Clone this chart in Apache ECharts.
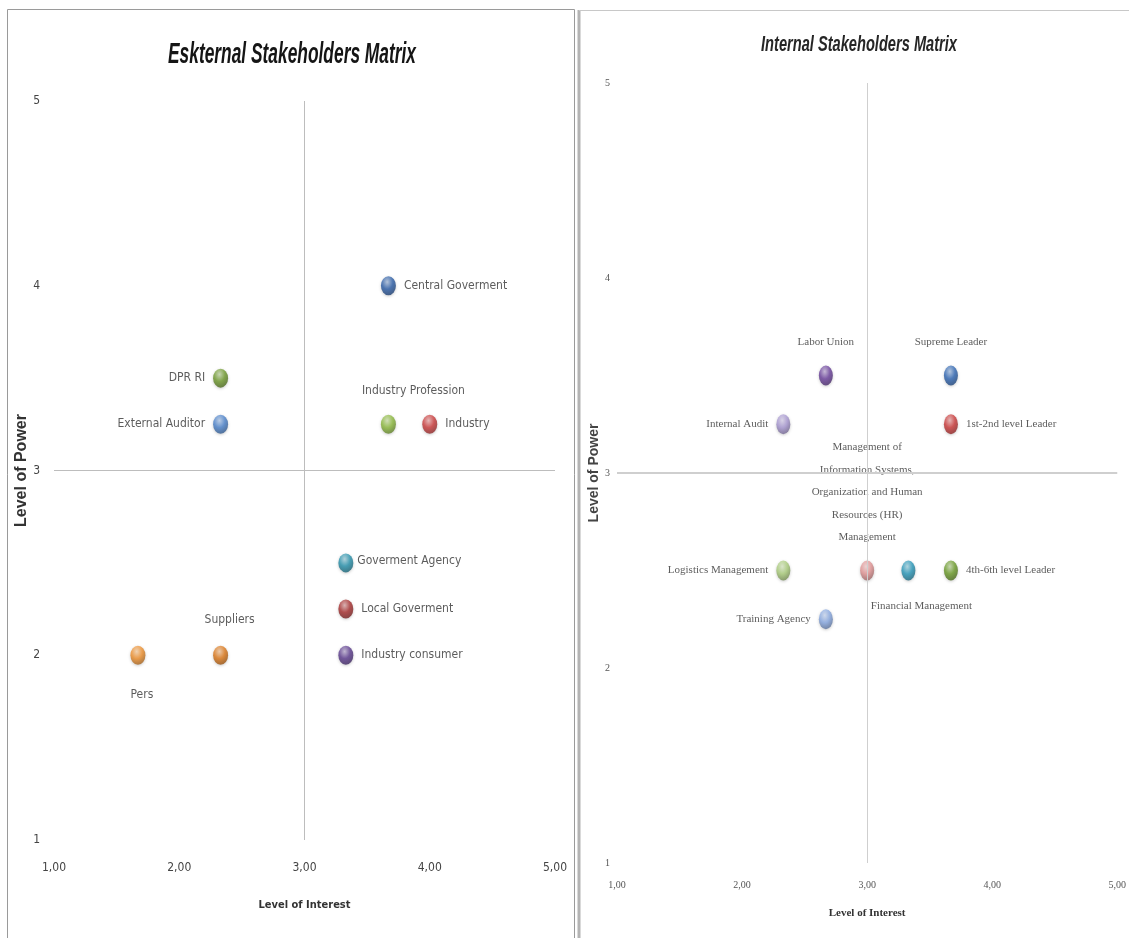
<!DOCTYPE html>
<html>
<head>
<meta charset="utf-8">
<script src="https://cdn.jsdelivr.net/npm/echarts@6/dist/echarts.min.js"></script>
<style>
  html, body { margin: 0; padding: 0; background: #ffffff; }
  #chart { width: 1129px; height: 938px; }
</style>
</head>
<body>
<div id="chart"></div>
<script>
// ---- External stakeholders (interest vs power) ----
const extNames = ['Central Goverment', 'DPR RI', 'External Auditor', 'Industry Profession', 'Industry',
                  'Goverment Agency', 'Local Goverment', 'Industry consumer', 'Suppliers', 'Pers'];
const extInterest = [3.67, 2.33, 2.33, 3.67, 4.00, 3.33, 3.33, 3.33, 2.33, 1.67];
const extPower    = [4.00, 3.50, 3.25, 3.25, 3.25, 2.50, 2.25, 2.00, 2.00, 2.00];

// ---- Internal stakeholders (interest vs power) ----
const intNames = ['Labor Union', 'Supreme Leader', 'Internal Audit', '1st-2nd level Leader',
                  'Management of\nInformation Systems,\nOrganization and Human\nResources (HR)\nManagement',
                  'Logistics Management', 'Financial Management', '4th-6th level Leader', 'Training Agency'];
const intInterest = [2.67, 3.67, 2.33, 3.67, 3.00, 2.33, 3.33, 3.67, 2.67];
const intPower    = [3.50, 3.50, 3.25, 3.25, 2.50, 2.50, 2.50, 2.50, 2.25];

// ---- Titles and axis tick labels ----
const extTitle = 'Eskternal Stakeholders Matrix';
const intTitle = 'Internal Stakeholders Matrix';
const xTickLabels = ['1,00', '2,00', '3,00', '4,00', '5,00'];
const yTickLabels = ['1', '2', '3', '4', '5'];

// ---- Marker colours and label placement ----
const extColors = ['#2c5ea8', '#6f9a2c', '#4a82cc', '#8cba3c', '#cc3a3a',
                   '#2692ad', '#a82e2e', '#5b3a8e', '#de7818', '#f0902c'];
const extLabelPos = ['right', 'left', 'left', 'top', 'right', 'right', 'right', 'right', 'top', 'bottom'];
const extLabelOffset = [[0,0],[0,0],[0,0],[25,-8],[0,0],[-4,-2],[0,0],[0,0],[9,-10],[4,14]];

const intColors = ['#6a3f9c', '#2e66b4', '#a797d2', '#cc3838', '#e39494',
                   '#aacd7a', '#2898ba', '#6b9c28', '#87a8e2'];
const intLabelPos = ['top', 'top', 'left', 'right', 'top', 'left', 'bottom', 'right', 'left'];
const intLabelOffset = [[0,-4],[0,-4],[0,0],[0,0],[0,-4],[0,0],[13,6],[0,0],[0,0]];

const crossAt = 3;

const SANS = "'Liberation Sans',Arial,sans-serif";
const COND = "'DejaVu Sans Condensed','DejaVu Sans',sans-serif";
const SERIF = "'Liberation Serif','DejaVu Serif',serif";

function shade(hex, f) {
  const n = parseInt(hex.slice(1), 16);
  let r = (n >> 16) & 255, g = (n >> 8) & 255, b = n & 255;
  if (f >= 0) { r += (255 - r) * f; g += (255 - g) * f; b += (255 - b) * f; }
  else { r *= (1 + f); g *= (1 + f); b *= (1 + f); }
  return 'rgb(' + Math.round(r) + ',' + Math.round(g) + ',' + Math.round(b) + ')';
}

// glossy sphere fill
function sphere(hex) {
  return {
    type: 'radial', x: 0.42, y: 0.3, r: 0.75,
    colorStops: [
      { offset: 0, color: shade(hex, 0.6) },
      { offset: 0.5, color: hex },
      { offset: 1, color: shade(hex, -0.35) }
    ]
  };
}

function buildData(names, xs, ys, colors, pos, offs, fontSize, family, lineHeight) {
  return names.map((n, i) => ({
    name: n,
    value: [xs[i], ys[i]],
    itemStyle: { color: sphere(colors[i]), shadowColor: 'rgba(0,0,0,0.25)', shadowBlur: 3, shadowOffsetY: 1 },
    label: {
      show: true, formatter: '{b}', position: pos[i], offset: offs[i],
      distance: 8, fontSize: fontSize, fontFamily: family, color: '#333333',
      lineHeight: lineHeight,
      align: pos[i] === 'left' ? 'right' : (pos[i] === 'right' ? 'left' : 'center')
    }
  }));
}

function quadrantLines(color, widthH) {
  return {
    silent: true, symbol: 'none', animation: false,
    label: { show: false },
    data: [
      { xAxis: crossAt, lineStyle: { color: color, width: 1, type: 'solid' } },
      { yAxis: crossAt, lineStyle: { color: color, width: widthH, type: 'solid' } }
    ]
  };
}

// condensed headline text: squeeze the glyphs horizontally to a given width
const measureCtx = document.createElement('canvas').getContext('2d');
function squeezedTitle(text, cx, cy, font, targetWidth, color, blur) {
  measureCtx.font = font;
  const w = measureCtx.measureText(text).width;
  return {
    type: 'text', x: cx, y: cy, scaleX: targetWidth / w, silent: true, z: 10,
    style: {
      text: text, font: font, fill: color, align: 'center', verticalAlign: 'middle',
      shadowColor: 'rgba(0,0,0,0.28)', shadowBlur: blur
    }
  };
}

const chart = echarts.init(document.getElementById('chart'), null, { renderer: 'canvas' });

chart.setOption({
  animation: false,
  backgroundColor: '#ffffff',
  graphic: [
    { type: 'rect', shape: { x: 7.5, y: 9.5, width: 567, height: 940 },
      style: { fill: 'none', stroke: '#9a9a9a', lineWidth: 1 }, silent: true },
    { type: 'line', shape: { x1: 579, y1: 10, x2: 579, y2: 938 },
      style: { stroke: '#b4b4b4', lineWidth: 3 }, silent: true },
    { type: 'line', shape: { x1: 579, y1: 10.5, x2: 1129, y2: 10.5 },
      style: { stroke: '#c8c8c8', lineWidth: 1 }, silent: true },
    squeezedTitle(extTitle, 292, 55, 'italic bold 29px ' + SANS, 248, '#151515', 6),
    squeezedTitle(intTitle, 859, 45, 'italic bold 22px ' + SANS, 196, '#262626', 5)
  ],
  grid: [
    { left: 54, top: 101, width: 501, height: 739 },
    { left: 617, top: 83, width: 501, height: 780 }
  ],
  xAxis: [
    {
      gridIndex: 0, type: 'value', min: 1, max: 5, interval: 1,
      name: 'Level of Interest', nameLocation: 'middle', nameGap: 60,
      nameTextStyle: { fontFamily: COND, fontSize: 11, fontWeight: 'bold', color: '#333' },
      axisLine: { show: false }, axisTick: { show: false }, splitLine: { show: false },
      axisLabel: { margin: 22, fontFamily: COND, fontSize: 12, color: '#444',
                   formatter: v => xTickLabels[Math.round(v) - 1] }
    },
    {
      gridIndex: 1, type: 'value', min: 1, max: 5, interval: 1,
      name: 'Level of Interest', nameLocation: 'middle', nameGap: 45,
      nameTextStyle: { fontFamily: SERIF, fontSize: 11, fontWeight: 'bold', color: '#333' },
      axisLine: { show: false }, axisTick: { show: false }, splitLine: { show: false },
      axisLabel: { margin: 17, fontFamily: SERIF, fontSize: 10, color: '#555',
                   formatter: v => xTickLabels[Math.round(v) - 1] }
    }
  ],
  yAxis: [
    {
      gridIndex: 0, type: 'value', min: 1, max: 5, interval: 1,
      name: 'Level of Power', nameLocation: 'middle', nameGap: 16, nameRotate: 90,
      nameTextStyle: { fontFamily: SANS, fontSize: 16, fontWeight: 'bold', color: '#333' },
      axisLine: { show: false }, axisTick: { show: false }, splitLine: { show: false },
      axisLabel: { margin: 14, fontFamily: COND, fontSize: 12, color: '#444',
                   formatter: v => yTickLabels[Math.round(v) - 1] }
    },
    {
      gridIndex: 1, type: 'value', min: 1, max: 5, interval: 1,
      name: 'Level of Power', nameLocation: 'middle', nameGap: 13, nameRotate: 90,
      nameTextStyle: { fontFamily: SANS, fontSize: 14, fontWeight: 'bold', color: '#444' },
      axisLine: { show: false }, axisTick: { show: false }, splitLine: { show: false },
      axisLabel: { margin: 7, fontFamily: SERIF, fontSize: 10, color: '#555',
                   formatter: v => yTickLabels[Math.round(v) - 1] }
    }
  ],
  series: [
    {
      type: 'scatter', xAxisIndex: 0, yAxisIndex: 0,
      symbol: 'circle', symbolSize: [15, 19], z: 3,
      data: buildData(extNames, extInterest, extPower, extColors, extLabelPos, extLabelOffset, 12, COND, 16),
      markLine: quadrantLines('#bdbdbd', 1)
    },
    {
      type: 'scatter', xAxisIndex: 1, yAxisIndex: 1,
      symbol: 'circle', symbolSize: [14, 20], z: 3,
      data: buildData(intNames, intInterest, intPower, intColors, intLabelPos, intLabelOffset, 11, SERIF, 22.5),
      markLine: quadrantLines('#cfcfcf', 2)
    }
  ]
});
</script>
</body>
</html>
